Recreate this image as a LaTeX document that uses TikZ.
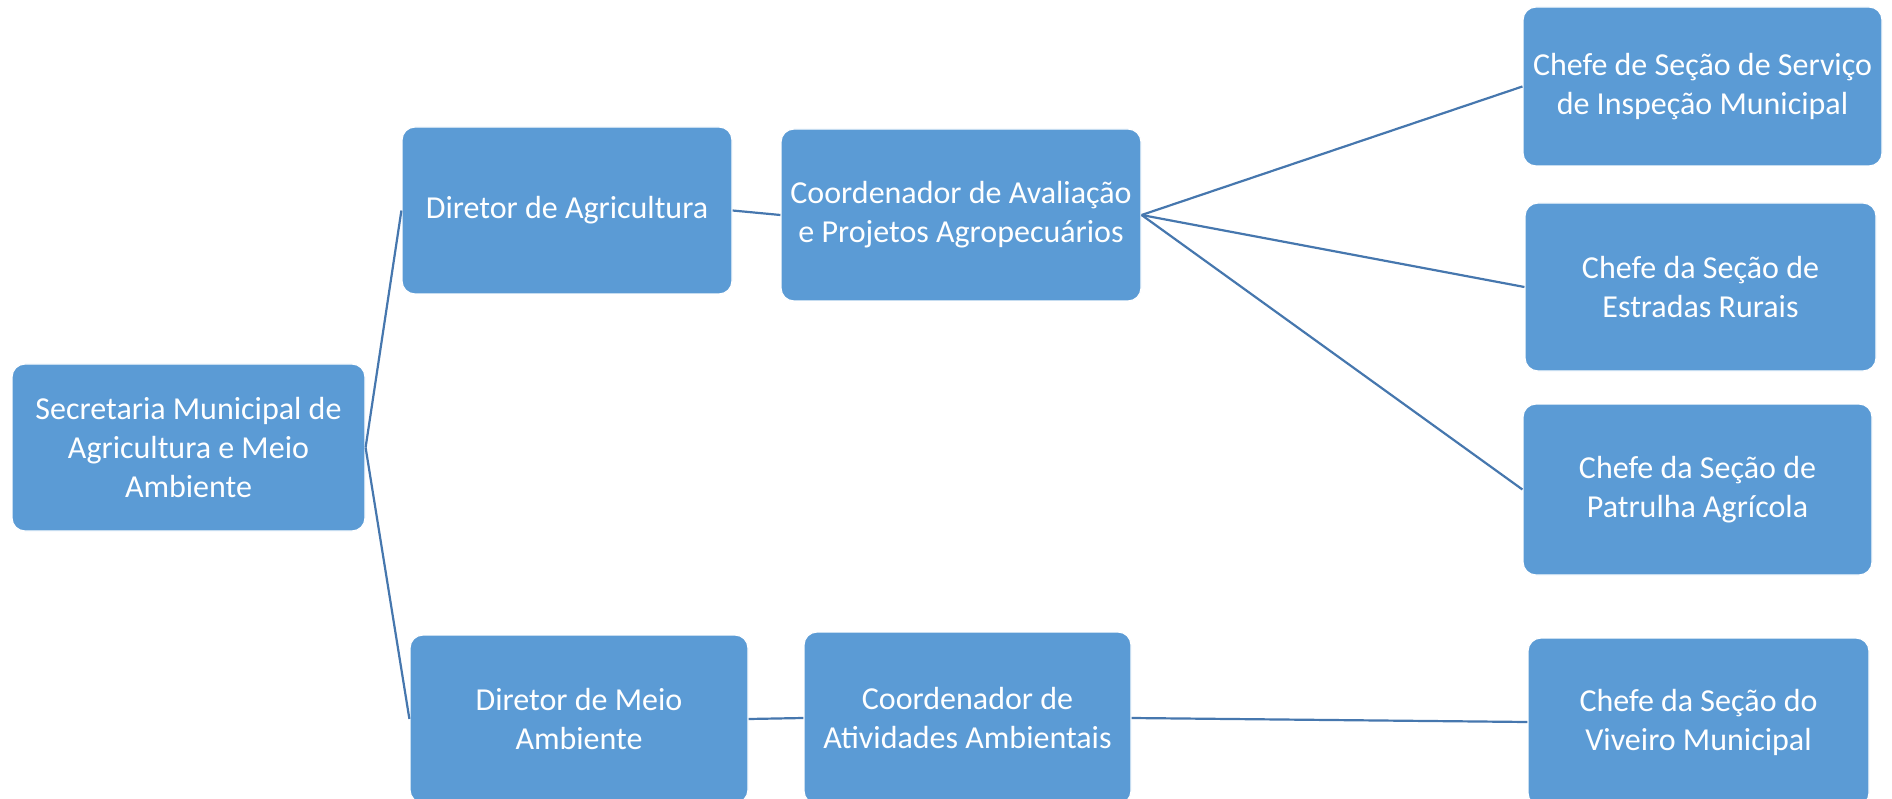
\documentclass[tikz,border=0pt]{standalone}
\usepackage{fontspec}
\setmainfont{Carlito}
\definecolor{boxblue}{HTML}{5B9BD5}
\definecolor{lineblue}{HTML}{4677AE}
\begin{document}
\begin{tikzpicture}[x=1pt,y=-1pt,
  orgbox/.style={draw=white, line width=1.2pt, fill=boxblue, rounded corners=13pt,
    text=white, align=center, inner sep=0pt,
    font=\fontsize{32}{39}\selectfont},
  link/.style={draw=lineblue, line width=2.2pt}]
\useasboundingbox (0,0) rectangle (1892,799);
\node[orgbox, minimum width=353, minimum height=167] (sec) at (188.5,447.5) {Secretaria Municipal de\\Agricultura e Meio\\Ambiente};
\node[orgbox, minimum width=330, minimum height=167] (dag) at (567,210.5) {Diretor de Agricultura};
\node[orgbox, minimum width=360, minimum height=172] (cav) at (961,215) {Coordenador de Avaliação\\e Projetos Agropecuários};
\node[orgbox, minimum width=359, minimum height=159] (csi) at (1702.5,86.5) {Chefe de Seção de Serviço\\de Inspeção Municipal};
\node[orgbox, minimum width=351, minimum height=168] (cer) at (1700.5,287) {Chefe da Seção de\\Estradas Rurais};
\node[orgbox, minimum width=349, minimum height=171] (cpa) at (1697.5,489.5) {Chefe da Seção de\\Patrulha Agrícola};
\node[orgbox, minimum width=338, minimum height=168] (dma) at (579,719) {Diretor de Meio\\Ambiente};
\node[orgbox, minimum width=327, minimum height=172] (cat) at (967.5,718) {Coordenador de\\Atividades Ambientais};
\node[orgbox, minimum width=341, minimum height=168] (cvm) at (1698.5,722) {Chefe da Seção do\\Viveiro Municipal};
\draw[link] (sec.east) -- (dag.west);
\draw[link] (sec.east) -- (dma.west);
\draw[link] (dag.east) -- (cav.west);
\draw[link] (cav.east) -- (csi.west);
\draw[link] (cav.east) -- (cer.west);
\draw[link] (cav.east) -- (cpa.west);
\draw[link] (dma.east) -- (cat.west);
\draw[link] (cat.east) -- (cvm.west);
\end{tikzpicture}
\end{document}
